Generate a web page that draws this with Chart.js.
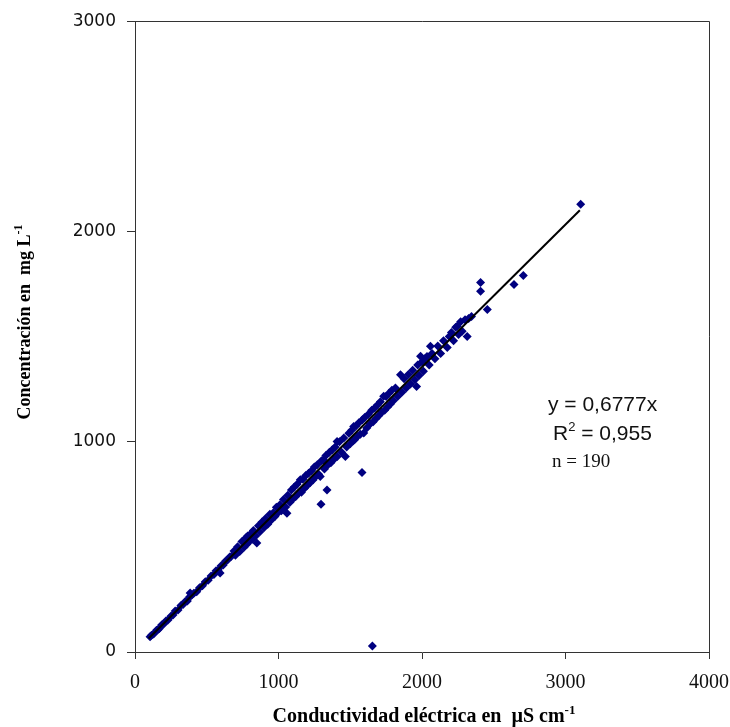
<!DOCTYPE html>
<html>
<head>
<meta charset="utf-8">
<script src="https://cdn.jsdelivr.net/npm/chart.js@4.4.1/dist/chart.umd.min.js"></script>
<style>
    html, body { margin: 0; padding: 0; background: #fff; }
    #wrap { width: 730px; height: 727px; }
</style>
</head>
<body>
<div id="wrap"><canvas id="scatter-chart" width="730" height="727"></canvas></div>
<script>
// conductividad (µS/cm) and concentracion (mg/L)
const conductividad = [
    105, 115, 130, 150, 160, 170, 185, 200, 215, 230, 250, 265, 280, 300, 320, 335, 350, 365, 380, 384,
    395, 410, 430, 450, 470, 490, 510, 530, 550, 565, 580, 593, 600, 615, 630, 645, 660, 672,
    690, 700, 715, 730, 745, 760, 775, 780, 785, 795, 803, 815, 825, 840, 849, 860, 870, 885, 900, 910,
    925, 940, 950, 964, 975, 985, 1000,
    1010, 1020, 1035, 1050, 1059, 1065, 1080, 1090, 1100, 1110, 1120, 1130, 1140, 1152, 1160, 1170,
    1180, 1190, 1200, 1210, 1220, 1230, 1240, 1250, 1260, 1270, 1280, 1291, 1296, 1300, 1313, 1320,
    1330, 1338, 1345, 1355, 1365, 1375, 1385, 1395, 1408, 1410, 1425, 1440, 1455, 1466, 1475,
    1490, 1500, 1510, 1520, 1524, 1530, 1540, 1550, 1560, 1570, 1582, 1585, 1594, 1600, 1615, 1625,
    1640, 1650, 1654, 1660, 1670, 1680, 1690, 1700, 1710, 1720, 1733, 1740, 1750, 1760, 1770, 1780,
    1790, 1800, 1815, 1830, 1850, 1860, 1875, 1890, 1905, 1920, 1935, 1950, 1962, 1970, 1980, 1990,
    2000, 2010, 2020,
    2035, 2050, 2059, 2070, 2090, 2110, 2130, 2150, 2176, 2190, 2205, 2220, 2235, 2245, 2255, 2269,
    2280, 2300, 2315, 2325, 2345, 2408, 2408, 2455, 2641, 2706, 3106
];
const concentracion = [
    72, 80, 86, 103, 106, 112, 128, 133, 148, 152, 170, 176, 195, 200, 221, 226, 240, 243, 262, 281,
    270, 280, 287, 306, 315, 334, 341, 362, 368, 386, 390, 376, 410, 414, 432, 437, 452, 455,
    480, 460, 500, 478, 525, 498, 545, 512, 552, 525, 560, 535, 578, 552, 518, 600, 572, 618, 592, 635,
    608, 655, 628, 662, 645, 688, 665,
    700, 672, 725, 690, 660, 745, 712, 770, 728, 785, 740, 798, 755, 819, 760, 822,
    778, 840, 792, 850, 805, 862, 818, 880, 835, 890, 845, 835, 703, 910, 914, 870,
    935, 771, 890, 950, 900, 962, 915, 975, 1001, 930, 1000, 950, 1018, 930, 975,
    1040, 990, 1055, 1005, 1073, 1010, 1075, 1025, 1090, 1035, 854, 1105, 1041, 1115, 1065, 1130,
    1085, 1150, 29, 1095, 1160, 1110, 1175, 1125, 1190, 1140, 1216, 1150, 1215, 1165, 1230, 1180,
    1245, 1195, 1255, 1215, 1319, 1235, 1300, 1255, 1320, 1275, 1340, 1295, 1263, 1365, 1315, 1406,
    1380, 1335, 1395,
    1405, 1365, 1454, 1420, 1395, 1455, 1420, 1480, 1448, 1500, 1520, 1480, 1545, 1549, 1510, 1571,
    1525, 1580, 1501, 1586, 1595, 1757, 1716, 1629, 1748, 1790, 2129
];

// trend line y = 0,6777x
const fitX = [95, 3100];
const fitY = [64, 2101];

const xTicks = [0, 1000, 2000, 3000, 4000];
const yTicks = [0, 1000, 2000, 3000];

const navy = '#000080';
const axisColor = '#333';

function drawSup(ctx, x, y, base, sup, font, supFont, rise, align) {
    ctx.font = font;
    const wb = ctx.measureText(base).width;
    ctx.font = supFont;
    const ws = ctx.measureText(sup).width;
    let start = x;
    if (align === 'center') start = x - (wb + ws) / 2;
    ctx.textAlign = 'left';
    ctx.font = font;
    ctx.fillText(base, start, y);
    ctx.font = supFont;
    ctx.fillText(sup, start + wb, y - rise);
    return start + wb + ws;
}

const decor = {
    id: 'decor',
    afterDraw(chart) {
        const { ctx, chartArea: a } = chart;
        ctx.save();
        // box top and right
        ctx.strokeStyle = axisColor;
        ctx.lineWidth = 1;
        ctx.beginPath();
        ctx.moveTo(a.left, Math.round(a.top) + 0.5);
        ctx.lineTo(Math.round(a.right) + 0.5, Math.round(a.top) + 0.5);
        ctx.lineTo(Math.round(a.right) + 0.5, a.bottom);
        ctx.stroke();

        ctx.fillStyle = '#000';
        ctx.textBaseline = 'alphabetic';

        // x title
        drawSup(ctx, 424, 722, 'Conductividad eléctrica en  \u00b5S cm', '-1',
            'bold 20px "Liberation Serif"', 'bold 13px "Liberation Serif"', 8, 'center');

        // y title
        ctx.save();
        ctx.translate(30, 322);
        ctx.rotate(-Math.PI / 2);
        drawSup(ctx, 0, 0, 'Concentración en  mg L', '-1',
            'bold 18px "Liberation Serif"', 'bold 12px "Liberation Serif"', 8, 'center');
        ctx.restore();

        // equation
        ctx.textAlign = 'left';
        ctx.fillStyle = '#111';
        ctx.font = '21px "Liberation Sans"';
        ctx.fillText('y = 0,6777x', 548, 411);
        const end = drawSup(ctx, 553, 440, 'R', '2', '21px "Liberation Sans"', '13px "Liberation Sans"', 9, 'left');
        ctx.font = '21px "Liberation Sans"';
        ctx.fillText(' = 0,955', end, 440);
        ctx.font = '19px "Liberation Serif"';
        ctx.fillText('n = 190', 552, 467);
        ctx.restore();
    }
};

document.addEventListener('DOMContentLoaded', () => {
    const points = conductividad.map((x, i) => ({ x: x, y: concentracion[i] }));
    const fit = fitX.map((x, i) => ({ x: x, y: fitY[i] }));

    const canvas = document.getElementById('scatter-chart');
    const ctx = canvas.getContext('2d');
    new Chart(ctx, {
        type: 'scatter',
        data: {
            datasets: [
                {
                    label: 'Muestras',
                    data: points,
                    pointStyle: 'rectRot',
                    pointRadius: 4.5,
                    pointBorderWidth: 0,
                    backgroundColor: navy,
                    borderColor: navy,
                    order: 2,
                },
                {
                    label: 'Ajuste',
                    data: fit,
                    showLine: true,
                    pointRadius: 0,
                    borderColor: '#000',
                    borderWidth: 2,
                    order: 1,
                },
            ]
        },
        options: {
            responsive: false,
            animation: false,
            layout: {
                padding: { top: 21, right: 21, left: 0, bottom: 0 }
            },
            plugins: {
                legend: { display: false },
                tooltip: { enabled: false },
            },
            scales: {
                x: {
                    type: 'linear',
                    min: 0,
                    max: 4000,
                    afterFit: s => {
                        s.height = 75;
                        s.paddingRight = 0;
                        s.paddingLeft = 0;
                    },
                    afterBuildTicks: s => { s.ticks = xTicks.map(v => ({ value: v })); },
                    grid: {
                        drawOnChartArea: false,
                        drawTicks: true,
                        tickLength: 7,
                        color: axisColor,
                    },
                    border: { color: axisColor, width: 1 },
                    ticks: {
                        color: '#111',
                        padding: 12,
                        maxRotation: 0,
                        callback: v => String(v),
                        font: { family: '"Liberation Serif"', size: 20 },
                    },
                },
                y: {
                    type: 'linear',
                    min: 0,
                    max: 3000,
                    afterFit: s => { s.width = 135; },
                    afterBuildTicks: s => { s.ticks = yTicks.map(v => ({ value: v })); },
                    grid: {
                        drawOnChartArea: false,
                        drawTicks: true,
                        tickLength: 8,
                        color: axisColor,
                    },
                    border: { color: axisColor, width: 1 },
                    ticks: {
                        color: '#111',
                        padding: 11,
                        callback: v => String(v),
                        font: { family: '"DejaVu Sans"', size: 17 },
                    },
                },
            }
        },
        plugins: [decor]
    });
});
</script>
</body>
</html>
